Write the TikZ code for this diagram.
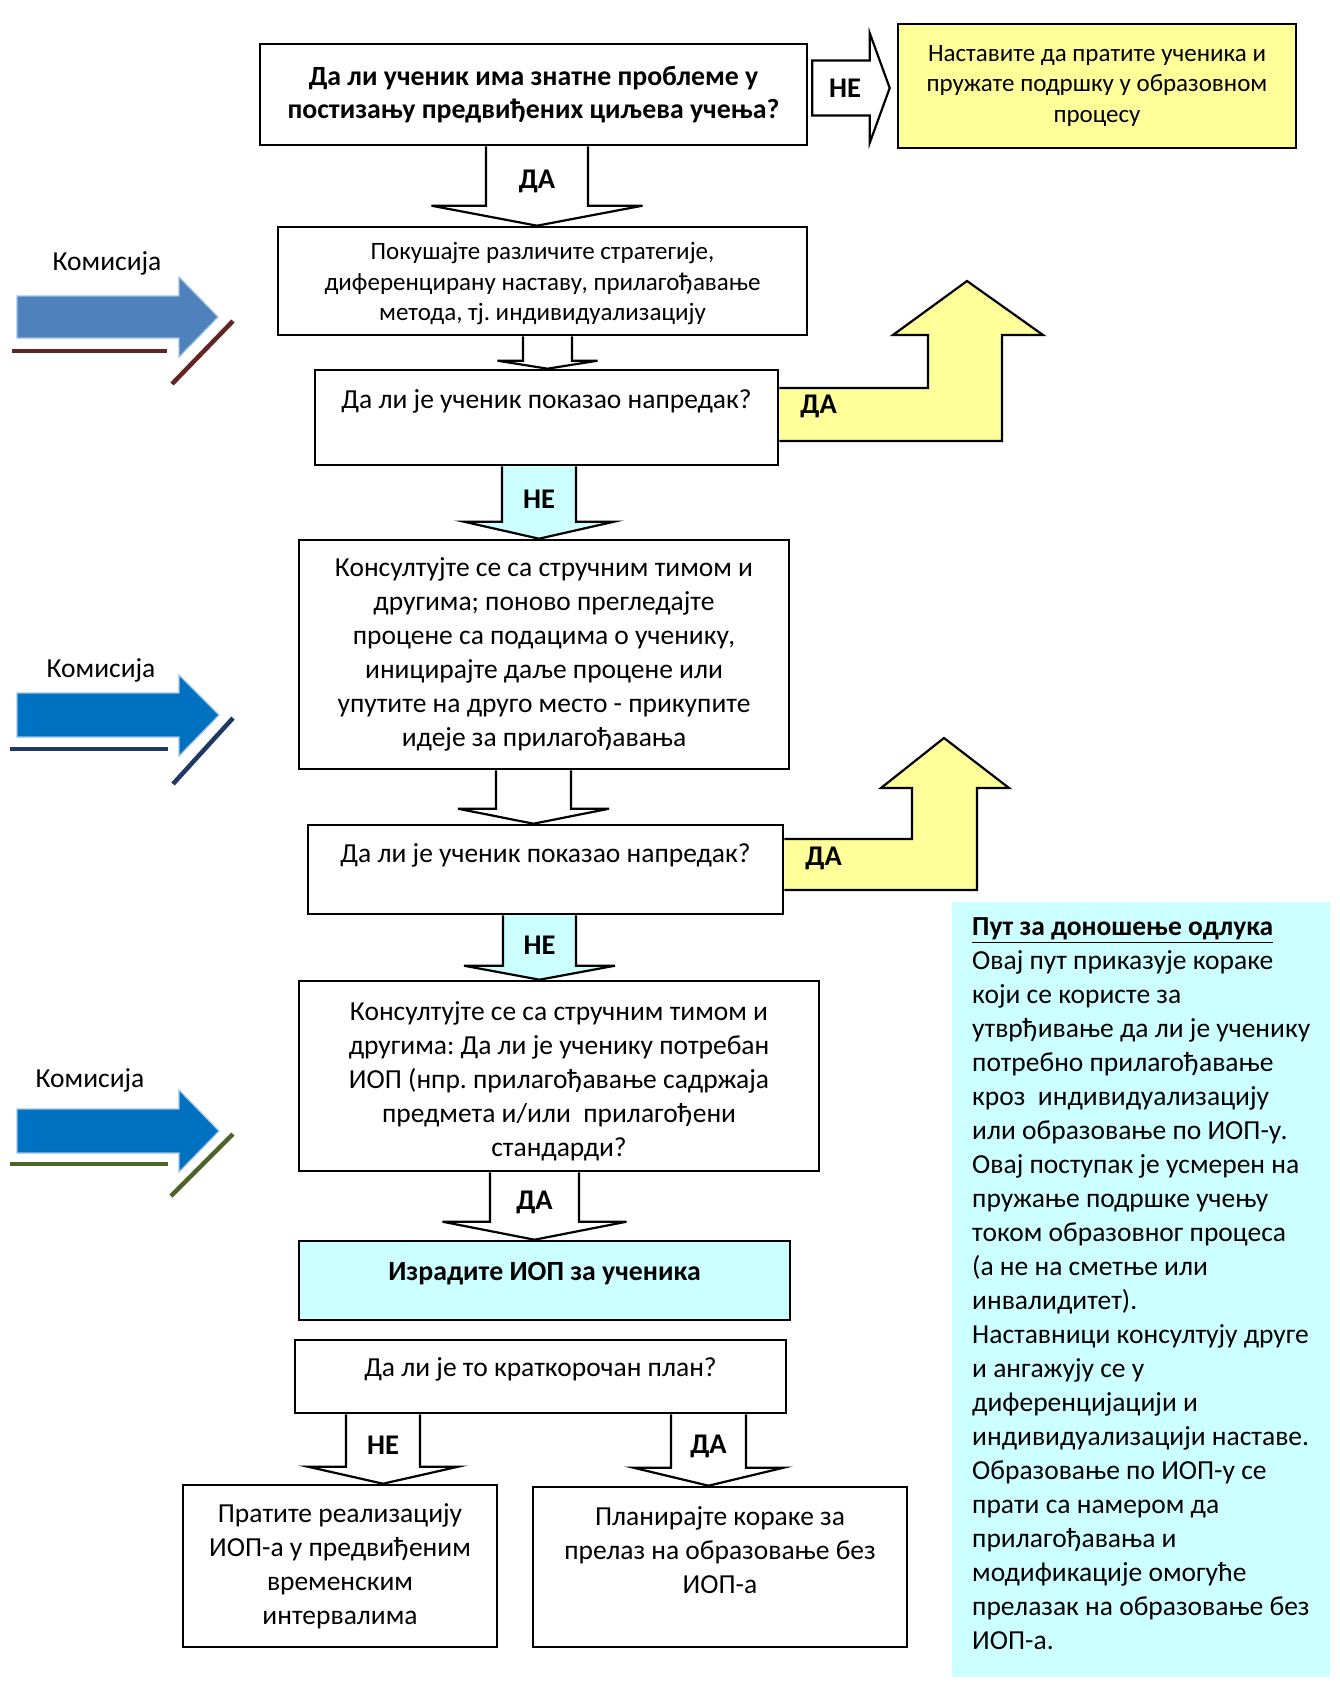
\documentclass[tikz,border=0pt]{standalone}
\usepackage{fontspec}
\setmainfont{Carlito}
\frenchspacing
\usetikzlibrary{calc,backgrounds}
\definecolor{softyellow}{HTML}{FFFF99}
\definecolor{softcyan}{HTML}{CCFFFF}
\definecolor{komA}{HTML}{4F81BD}
\definecolor{komB}{HTML}{0070C0}
\definecolor{komedge}{HTML}{9DC3E6}
\definecolor{lineA}{HTML}{632523}
\definecolor{lineB}{HTML}{1F3864}
\definecolor{lineC}{HTML}{4F6228}

% block arrow going down: from, to, x centre, half shaft, half head, head length, fill, label
\newcommand{\blockdown}[8]{%
  \draw[blockline, fill=#7] let \p1=(#1.south), \p2=(#2.north), \p3=(#3,0) in
    ({\x3-#4pt},\y1) -- ({\x3-#4pt},{\y2+#6pt}) -- ({\x3-#5pt},{\y2+#6pt}) -- (\x3,\y2)
    -- ({\x3+#5pt},{\y2+#6pt}) -- ({\x3+#4pt},{\y2+#6pt}) -- ({\x3+#4pt},\y1)
    node[arrowlabel] at (\x3,{(\y1+\y2+#6pt)/2-5pt}) {#8};}
% block arrow going right: from, to, y centre, half shaft, half head, head length, fill, label
\newcommand{\blockright}[8]{%
  \draw[blockline, fill=#7] let \p1=(#1.east), \p2=(#2.west), \p3=(0,#3) in
    ({\x1+4pt},{\y3+#4pt}) -- ({\x2-7pt-#6pt},{\y3+#4pt}) -- ({\x2-7pt-#6pt},{\y3+#5pt}) -- ({\x2-7pt},\y3)
    -- ({\x2-7pt-#6pt},{\y3-#5pt}) -- ({\x2-7pt-#6pt},{\y3-#4pt}) -- ({\x1+4pt},{\y3-#4pt}) -- cycle
    node[arrowlabel] at ({(\x1+\x2-7pt-#6pt)/2+6pt},\y3) {#8};}

\begin{document}
\begin{tikzpicture}[x=1pt, y=-1pt]
   \tikzstyle{every node} = [inner sep=0pt, font=\fontsize{27.5}{34}\selectfont];
   \tikzstyle{box} = [rectangle, draw, line width=2.6pt, fill=white, align=center];
   \tikzstyle{blockline} = [draw=black, line width=2.2pt, line join=miter];
   \tikzstyle{arrowlabel} = [font=\bfseries\fontsize{28.5}{32}\selectfont];
   \tikzstyle{komline} = [line width=4.5pt];
   \useasboundingbox (0,0) rectangle (1340,1704);

   % question boxes and steps
   \node[box, minimum width=547pt, minimum height=101pt, font=\bfseries\fontsize{27.8}{32.5}\selectfont] (problem) at (533.5,94.5)
      {Да ли ученик има знатне проблеме у\\постизању предвиђених циљева учења?};
   \node[box, fill=softyellow, minimum width=398pt, minimum height=124pt, font=\fontsize{25}{30.4}\selectfont] (keepgoing) at (1097,86)
      {Наставите да пратите ученика и\\пружате подршку у образовном\\процесу};
   \node[box, minimum width=529pt, minimum height=108pt, font=\fontsize{25}{30.4}\selectfont] (tryout) at (542.5,281)
      {\rule{0pt}{23pt}Покушајте различите стратегије,\\диференцирану наставу, прилагођавање\\метода, тј. индивидуализацију};
   \node[box, minimum width=463pt, minimum height=95pt, text depth=36pt] (progressA) at (546.5,417.5)
      {Да ли је ученик показао напредак?};
   \node[box, minimum width=490pt, minimum height=229pt] (consultA) at (544,654.5)
      {Консултујте се са стручним тимом и\\другима; поново прегледајте\\процене са подацима о ученику,\\иницирајте даље процене или\\упутите на друго место - прикупите\\идеје за прилагођавања};
   \node[box, minimum width=475pt, minimum height=89pt, text depth=33.4pt] (progressB) at (545.5,869.5)
      {Да ли је ученик показао напредак?};
   \node[box, minimum width=520pt, minimum height=190pt] (consultB) at (559,1076)
      {\rule{0pt}{30pt}Консултујте се са стручним тимом и\\другима: Да ли је ученику потребан\\ИОП (нпр. прилагођавање садржаја\\предмета и/или\ \ прилагођени\\стандарди?};
   \node[box, fill=softcyan, minimum width=491pt, minimum height=79pt, text depth=18pt, font=\bfseries\fontsize{27.8}{32}\selectfont] (makeiop) at (544.5,1280.5)
      {Израдите ИОП за ученика};
   \node[box, minimum width=491pt, minimum height=73pt, text depth=19.4pt] (shortplan) at (540.5,1376.5)
      {Да ли је то краткорочан план?};
   \node[box, minimum width=314pt, minimum height=162pt] (followiop) at (340,1566)
      {Пратите реализацију\\ИОП-а у предвиђеним\\временским\\интервалима};
   \node[box, minimum width=374pt, minimum height=160pt] (leaveiop) at (720,1567)
      {Планирајте кораке за\\прелаз на образовање без\\ИОП-а\\ \mbox{}};

   % side note
   \node[rectangle, fill=softcyan, anchor=west, inner xsep=20pt, minimum height=775pt, align=left] (pathnote) at (952,1289.5)
      {\underline{\textbf{Пут за доношење одлука}}\\Овај пут приказује кораке\\који се користе за\\утврђивање да ли је ученику\\потребно прилагођавање\\кроз\ \ индивидуализацију\\или образовање по ИОП-у.\\Овај поступак је усмерен на\\пружање подршке учењу\\током образовног процеса\\(а не на сметње или\\инвалидитет).\\Наставници консултују друге\\и ангажују се у\\диференцијацији и\\индивидуализацији наставе.\\Образовање по ИОП-у се\\прати са намером да\\прилагођавања и\\модификације омогуће\\прелазак на образовање без\\ИОП-а.\rule[-11pt]{0pt}{11pt}};

   % commission markers
   \node (komisijaA) at (107,263) {Комисија};
   \node (komisijaB) at (101,670) {Комисија};
   \node (komisijaC) at (90,1080) {Комисија};
   \filldraw[fill=komA, draw=komedge, line width=1.2pt] (17,296) -- (179,296) -- (179,277) -- (218,317) -- (179,357) -- (179,338) -- (17,338) -- cycle;
   \draw[komline, lineA] (12,351) -- (167,351);
   \draw[komline, lineA] (233,321) -- (172,384);
   \filldraw[fill=komB, draw=komedge, line width=1.2pt] (17,693) -- (179,693) -- (179,675) -- (219,715) -- (179,756) -- (179,737) -- (17,737) -- cycle;
   \draw[komline, lineB] (10,749) -- (168,749);
   \draw[komline, lineB] (233,718) -- (173,784);
   \filldraw[fill=komB, draw=komedge, line width=1.2pt] (17,1109) -- (179,1109) -- (179,1090) -- (219,1131) -- (179,1172) -- (179,1153) -- (17,1153) -- cycle;
   \draw[komline, lineC] (10,1164) -- (168,1164);
   \draw[komline, lineC] (233,1134) -- (171,1196);

   \begin{scope}[on background layer]
     \blockright{problem}{keepgoing}{88}{27.5}{55}{20}{white}{НЕ}
     \blockdown{problem}{tryout}{537}{51}{105.5}{20}{white}{ДА}
     \blockdown{tryout}{progressA}{547.5}{24.5}{50}{8}{white}{}
     \blockdown{progressA}{consultA}{539}{37}{75}{17}{softcyan}{НЕ}
     \blockdown{consultA}{progressB}{533.5}{37.5}{75.5}{15}{white}{}
     \blockdown{progressB}{consultB}{539.5}{36.5}{75.5}{14}{softcyan}{НЕ}
     \blockdown{consultB}{makeiop}{534.5}{44.5}{92}{18}{white}{ДА}
     \blockdown{shortplan}{followiop}{383}{37}{75}{17}{white}{НЕ}
     \blockdown{shortplan}{leaveiop}{708.5}{37.5}{75}{18}{white}{ДА}
     % way out when the pupil makes progress
     \draw[blockline, fill=softyellow] (progressA.east |- 0,388) -- (928,388) -- (928,335) -- (893,335) -- (967,281)
        -- (1043,335) -- (1002,335) -- (1002,441) -- (progressA.east |- 0,441)
        node[arrowlabel, anchor=west, xshift=20pt] at (progressA.east |- 0,406) {ДА};
     \draw[blockline, fill=softyellow] (progressB.east |- 0,839) -- (912,839) -- (912,788) -- (881,788) -- (944,738)
        -- (1009,788) -- (977,788) -- (977,890) -- (progressB.east |- 0,890)
        node[arrowlabel, anchor=west, xshift=20pt] at (progressB.east |- 0,858) {ДА};
   \end{scope}
\end{tikzpicture}
\end{document}
